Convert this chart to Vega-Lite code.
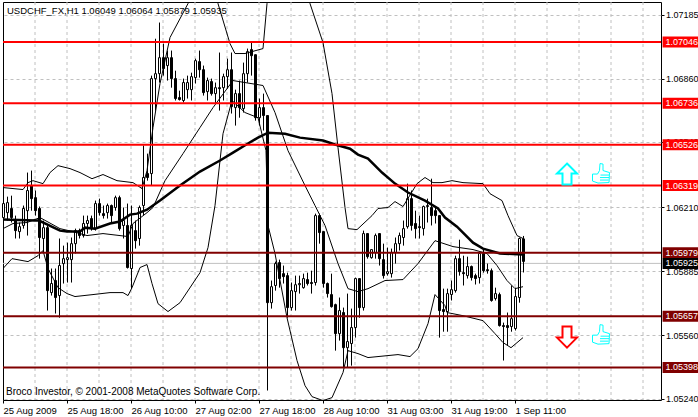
{"$schema":"https://vega.github.io/schema/vega-lite/v6.json","width":658,"height":398,"autosize":{"type":"none"},"padding":{"left":3,"top":2,"right":37,"bottom":17},"background":"white","view":{"stroke":"black","strokeWidth":1,"fill":"white"},
"config":{"font":"Liberation Sans","axis":{"labelFont":"Liberation Sans","labelFontSize":9.5,"labelColor":"black","tickColor":"black","domainColor":"black","title":null}},
"datasets":{
"gridx":[{"t":8},{"t":16},{"t":24},{"t":32},{"t":40},{"t":48},{"t":56},{"t":64},{"t":72},{"t":80},{"t":88},{"t":96},{"t":104},{"t":112},{"t":120},{"t":128},{"t":136},{"t":144},{"t":152},{"t":160}],
"bars":[
{"t":0,"o":1.06157,"h":1.06253,"l":1.06132,"c":1.06228},{"t":1,"o":1.06182,"h":1.06263,"l":1.06142,"c":1.06233},{"t":2,"o":1.06203,"h":1.06268,"l":1.06132,"c":1.06157},{"t":3,"o":1.06142,"h":1.06167,"l":1.06051,"c":1.06091},{"t":4,"o":1.06086,"h":1.06132,"l":1.06051,"c":1.06111},{"t":5,"o":1.06117,"h":1.06218,"l":1.06101,"c":1.06203},{"t":6,"o":1.06192,"h":1.06385,"l":1.06066,"c":1.06294},{"t":7,"o":1.06319,"h":1.06395,"l":1.06192,"c":1.06253},{"t":8,"o":1.06258,"h":1.06294,"l":1.06167,"c":1.06192},{"t":9,"o":1.06203,"h":1.06213,"l":1.05949,"c":1.06056},
{"t":10,"o":1.06051,"h":1.06142,"l":1.0598,"c":1.06106},{"t":11,"o":1.06106,"h":1.06117,"l":1.05686,"c":1.05787},{"t":12,"o":1.05777,"h":1.05899,"l":1.05762,"c":1.05823},{"t":13,"o":1.05838,"h":1.05899,"l":1.05671,"c":1.05752},{"t":14,"o":1.05762,"h":1.06051,"l":1.0565,"c":1.05914},{"t":15,"o":1.05924,"h":1.06015,"l":1.05823,"c":1.05949},{"t":16,"o":1.05944,"h":1.0603,"l":1.05828,"c":1.05954},{"t":17,"o":1.05944,"h":1.06056,"l":1.05828,"c":1.06025},{"t":18,"o":1.06025,"h":1.06101,"l":1.05975,"c":1.06091},{"t":19,"o":1.06091,"h":1.06101,"l":1.06051,"c":1.06066},
{"t":20,"o":1.06066,"h":1.06167,"l":1.06056,"c":1.06127},{"t":21,"o":1.06127,"h":1.06167,"l":1.06076,"c":1.06142},{"t":22,"o":1.06152,"h":1.06167,"l":1.06091,"c":1.06101},{"t":23,"o":1.06101,"h":1.06243,"l":1.06091,"c":1.06228},{"t":24,"o":1.06228,"h":1.06253,"l":1.06167,"c":1.06182},{"t":25,"o":1.06177,"h":1.06218,"l":1.06152,"c":1.06167},{"t":26,"o":1.06182,"h":1.06228,"l":1.06152,"c":1.06218},{"t":27,"o":1.06218,"h":1.06223,"l":1.06132,"c":1.06167},{"t":28,"o":1.06208,"h":1.06268,"l":1.06192,"c":1.06258},{"t":29,"o":1.06258,"h":1.06268,"l":1.06091,"c":1.06101},
{"t":30,"o":1.06117,"h":1.06208,"l":1.06051,"c":1.06142},{"t":31,"o":1.06117,"h":1.06228,"l":1.05899,"c":1.05904},{"t":32,"o":1.05899,"h":1.06218,"l":1.05797,"c":1.06117},{"t":33,"o":1.06091,"h":1.06142,"l":1.06,"c":1.0604},{"t":34,"o":1.06051,"h":1.06218,"l":1.06015,"c":1.06208},{"t":35,"o":1.06218,"h":1.06522,"l":1.06167,"c":1.0636},{"t":36,"o":1.0638,"h":1.06481,"l":1.06344,"c":1.0636},{"t":37,"o":1.0638,"h":1.06876,"l":1.06319,"c":1.06861},{"t":38,"o":1.06861,"h":1.07063,"l":1.06699,"c":1.06886},{"t":39,"o":1.06886,"h":1.07145,"l":1.06841,"c":1.06967},
{"t":40,"o":1.06967,"h":1.07038,"l":1.06876,"c":1.06912},{"t":41,"o":1.06927,"h":1.07003,"l":1.06851,"c":1.06967},{"t":42,"o":1.06967,"h":1.07003,"l":1.06815,"c":1.06861},{"t":43,"o":1.06861,"h":1.06901,"l":1.0675,"c":1.0676},{"t":44,"o":1.06765,"h":1.068,"l":1.0675,"c":1.06755},{"t":45,"o":1.0675,"h":1.06861,"l":1.0674,"c":1.06841},{"t":46,"o":1.06805,"h":1.06876,"l":1.0676,"c":1.06841},{"t":47,"o":1.06805,"h":1.06891,"l":1.0675,"c":1.06871},{"t":48,"o":1.06866,"h":1.06962,"l":1.06836,"c":1.06952},{"t":49,"o":1.06947,"h":1.07003,"l":1.06866,"c":1.06906},
{"t":50,"o":1.06906,"h":1.06927,"l":1.06775,"c":1.0679},{"t":51,"o":1.06795,"h":1.06866,"l":1.0675,"c":1.06851},{"t":52,"o":1.06846,"h":1.06861,"l":1.06775,"c":1.06785},{"t":53,"o":1.06785,"h":1.06841,"l":1.06734,"c":1.06815},{"t":54,"o":1.06815,"h":1.06993,"l":1.06699,"c":1.0681},{"t":55,"o":1.06815,"h":1.06886,"l":1.0675,"c":1.06871},{"t":56,"o":1.06871,"h":1.06962,"l":1.0681,"c":1.06906},{"t":57,"o":1.06906,"h":1.06993,"l":1.06684,"c":1.06719},{"t":58,"o":1.06714,"h":1.06805,"l":1.06623,"c":1.06785},{"t":59,"o":1.06785,"h":1.06851,"l":1.06663,"c":1.06714},
{"t":60,"o":1.06709,"h":1.06942,"l":1.06689,"c":1.06886},{"t":61,"o":1.06886,"h":1.07013,"l":1.06841,"c":1.06998},{"t":62,"o":1.07008,"h":1.07043,"l":1.06876,"c":1.06977},{"t":63,"o":1.06982,"h":1.06982,"l":1.06648,"c":1.06663},{"t":64,"o":1.06663,"h":1.0676,"l":1.06623,"c":1.06714},{"t":65,"o":1.06714,"h":1.06785,"l":1.06598,"c":1.06674},{"t":66,"o":1.06674,"h":1.06674,"l":1.05281,"c":1.05726},{"t":67,"o":1.05726,"h":1.05838,"l":1.05696,"c":1.05807},{"t":68,"o":1.05813,"h":1.05934,"l":1.05787,"c":1.05924},{"t":69,"o":1.05929,"h":1.05944,"l":1.05802,"c":1.05848},
{"t":70,"o":1.05873,"h":1.05914,"l":1.05823,"c":1.05858},{"t":71,"o":1.05863,"h":1.05878,"l":1.0565,"c":1.05701},{"t":72,"o":1.05701,"h":1.05828,"l":1.05686,"c":1.05787},{"t":73,"o":1.05782,"h":1.05863,"l":1.05686,"c":1.05817},{"t":74,"o":1.05817,"h":1.05863,"l":1.05772,"c":1.05823},{"t":75,"o":1.05802,"h":1.05873,"l":1.05797,"c":1.05848},{"t":76,"o":1.05843,"h":1.05878,"l":1.05813,"c":1.05823},{"t":77,"o":1.05828,"h":1.05888,"l":1.05772,"c":1.05823},{"t":78,"o":1.05828,"h":1.06177,"l":1.05813,"c":1.06167},{"t":79,"o":1.06167,"h":1.06177,"l":1.06025,"c":1.06081},
{"t":80,"o":1.06086,"h":1.06086,"l":1.05802,"c":1.05823},{"t":81,"o":1.05823,"h":1.05828,"l":1.05752,"c":1.05772},{"t":82,"o":1.05767,"h":1.05873,"l":1.05701,"c":1.05706},{"t":83,"o":1.05716,"h":1.05721,"l":1.05483,"c":1.05569},{"t":84,"o":1.05569,"h":1.05752,"l":1.05534,"c":1.05686},{"t":85,"o":1.05676,"h":1.05701,"l":1.05397,"c":1.05498},{"t":86,"o":1.05498,"h":1.05772,"l":1.05397,"c":1.05529},{"t":87,"o":1.05519,"h":1.05696,"l":1.05407,"c":1.056},{"t":88,"o":1.056,"h":1.05853,"l":1.05549,"c":1.05848},{"t":89,"o":1.05848,"h":1.05848,"l":1.0565,"c":1.05701},
{"t":90,"o":1.05701,"h":1.06091,"l":1.05686,"c":1.06076},{"t":91,"o":1.06076,"h":1.06076,"l":1.05949,"c":1.05959},{"t":92,"o":1.05954,"h":1.05995,"l":1.05949,"c":1.05995},{"t":93,"o":1.0598,"h":1.06076,"l":1.05949,"c":1.06066},{"t":94,"o":1.06076,"h":1.06076,"l":1.05914,"c":1.05949},{"t":95,"o":1.05944,"h":1.06025,"l":1.05848,"c":1.05863},{"t":96,"o":1.05873,"h":1.06005,"l":1.05863,"c":1.05883},{"t":97,"o":1.05873,"h":1.06,"l":1.05853,"c":1.0598},{"t":98,"o":1.0598,"h":1.06056,"l":1.05924,"c":1.06025},{"t":99,"o":1.06025,"h":1.06081,"l":1.0599,"c":1.06066},
{"t":100,"o":1.06056,"h":1.06142,"l":1.06015,"c":1.06101},{"t":101,"o":1.06111,"h":1.06329,"l":1.06101,"c":1.06253},{"t":102,"o":1.06253,"h":1.06294,"l":1.06091,"c":1.06117},{"t":103,"o":1.06127,"h":1.06192,"l":1.06051,"c":1.06101},{"t":104,"o":1.06111,"h":1.06167,"l":1.06051,"c":1.06106},{"t":105,"o":1.06101,"h":1.06218,"l":1.06066,"c":1.06213},{"t":106,"o":1.06213,"h":1.06253,"l":1.06132,"c":1.06218},{"t":107,"o":1.06208,"h":1.06354,"l":1.06117,"c":1.06167},{"t":108,"o":1.06192,"h":1.06208,"l":1.06127,"c":1.06167},{"t":109,"o":1.06167,"h":1.06167,"l":1.05549,"c":1.05686},
{"t":110,"o":1.05691,"h":1.05797,"l":1.05579,"c":1.05681},{"t":111,"o":1.05681,"h":1.05797,"l":1.05579,"c":1.05772},{"t":112,"o":1.05767,"h":1.05838,"l":1.05737,"c":1.05792},{"t":113,"o":1.05787,"h":1.05964,"l":1.05777,"c":1.05949},{"t":114,"o":1.05949,"h":1.06045,"l":1.05863,"c":1.05883},{"t":115,"o":1.05878,"h":1.05964,"l":1.05813,"c":1.05873},{"t":116,"o":1.05863,"h":1.05959,"l":1.05848,"c":1.05909},{"t":117,"o":1.05909,"h":1.05914,"l":1.05838,"c":1.05853},{"t":118,"o":1.05863,"h":1.05873,"l":1.05818,"c":1.05848},{"t":119,"o":1.05853,"h":1.05985,"l":1.05823,"c":1.05975},
{"t":120,"o":1.05975,"h":1.06,"l":1.05878,"c":1.05888},{"t":121,"o":1.05893,"h":1.05924,"l":1.05873,"c":1.05888},{"t":122,"o":1.05888,"h":1.05899,"l":1.05731,"c":1.05737},{"t":123,"o":1.05747,"h":1.05802,"l":1.05737,"c":1.05772},{"t":124,"o":1.05767,"h":1.05777,"l":1.05605,"c":1.0561},{"t":125,"o":1.0561,"h":1.05625,"l":1.05433,"c":1.05605},{"t":126,"o":1.0561,"h":1.05676,"l":1.05509,"c":1.056},{"t":127,"o":1.05605,"h":1.05813,"l":1.05579,"c":1.05645},{"t":128,"o":1.05595,"h":1.05802,"l":1.05585,"c":1.05757},{"t":129,"o":1.05752,"h":1.06056,"l":1.05726,"c":1.06051},
{"t":130,"o":1.06049,"h":1.06064,"l":1.05879,"c":1.05935}
],
"ma":[{"t":0,"p":1.06147},{"t":8,"p":1.06142},{"t":9,"p":1.06142},{"t":14.25,"p":1.06091},{"t":16,"p":1.06086},{"t":19.25,"p":1.06086},{"t":20.5,"p":1.06106},{"t":23,"p":1.06101},{"t":26.75,"p":1.06127},{"t":29.25,"p":1.06137},{"t":31.75,"p":1.06172},{"t":33.5,"p":1.06177},{"t":36,"p":1.06197},{"t":39.25,"p":1.06243},{"t":40.5,"p":1.06263},{"t":44.25,"p":1.06319},{"t":49.25,"p":1.0639},{"t":54.25,"p":1.06446},{"t":57.5,"p":1.06486},{"t":61.25,"p":1.06532},{"t":63.75,"p":1.06562},{"t":66.25,"p":1.06587},{"t":70.5,"p":1.06582},{"t":74.25,"p":1.06562},{"t":80,"p":1.06547},{"t":83,"p":1.06527},{"t":86.75,"p":1.06506},{"t":88.75,"p":1.06476},{"t":91.25,"p":1.06456},{"t":94.75,"p":1.06385},{"t":98,"p":1.06329},{"t":101.25,"p":1.06284},{"t":105.5,"p":1.06243},{"t":108.75,"p":1.06203},{"t":110.5,"p":1.06157},{"t":113.5,"p":1.06111},{"t":117.5,"p":1.0603},{"t":120,"p":1.06},{"t":124.25,"p":1.05975},{"t":130,"p":1.0597}],
"bands":[
{"s":"upper","t":0,"p":1.06309},{"s":"upper","t":5,"p":1.06299},{"s":"upper","t":6.25,"p":1.06334},{"s":"upper","t":7.5,"p":1.06344},{"s":"upper","t":10,"p":1.06329},{"s":"upper","t":11.75,"p":1.06385},{"s":"upper","t":13.75,"p":1.0642},{"s":"upper","t":16.75,"p":1.06405},{"s":"upper","t":19.25,"p":1.06385},{"s":"upper","t":22.25,"p":1.06354},{"s":"upper","t":25,"p":1.06375},{"s":"upper","t":28.5,"p":1.06344},{"s":"upper","t":32.5,"p":1.06334},{"s":"upper","t":34.75,"p":1.06304},{"s":"upper","t":36,"p":1.06395},{"s":"upper","t":37.5,"p":1.06613},{"s":"upper","t":39.25,"p":1.06836},{"s":"upper","t":41.75,"p":1.07069},{"s":"upper","t":46.25,"p":1.07241},{"s":"upper","t":49.25,"p":1.07408},{"s":"upper","t":51.75,"p":1.07408},{"s":"upper","t":53.75,"p":1.07241},{"s":"upper","t":56.75,"p":1.07038},{"s":"upper","t":58,"p":1.06988},{"s":"upper","t":60.5,"p":1.06988},{"s":"upper","t":65,"p":1.07013},{"s":"upper","t":66,"p":1.07241},{"s":"upper","t":66.75,"p":1.07459},{"s":"upper","t":74.25,"p":1.07459},{"s":"upper","t":76.75,"p":1.07241},{"s":"upper","t":80,"p":1.07043},{"s":"upper","t":82.25,"p":1.06785},{"s":"upper","t":83.75,"p":1.06511},{"s":"upper","t":85.5,"p":1.06208},{"s":"upper","t":86.25,"p":1.06101},{"s":"upper","t":88.5,"p":1.06096},{"s":"upper","t":92.25,"p":1.06167},{"s":"upper","t":93.75,"p":1.06203},{"s":"upper","t":96.25,"p":1.06208},{"s":"upper","t":98,"p":1.06238},{"s":"upper","t":100,"p":1.06213},{"s":"upper","t":103.5,"p":1.06329},{"s":"upper","t":105.5,"p":1.0636},{"s":"upper","t":107.5,"p":1.06334},{"s":"upper","t":109.75,"p":1.06334},{"s":"upper","t":112.25,"p":1.06344},{"s":"upper","t":115,"p":1.06334},{"s":"upper","t":120,"p":1.06329},{"s":"upper","t":121.75,"p":1.06278},{"s":"upper","t":124.75,"p":1.06243},{"s":"upper","t":126.25,"p":1.06167},{"s":"upper","t":128.5,"p":1.06066},{"s":"upper","t":130,"p":1.06051},
{"s":"middle","t":0,"p":1.06101},{"s":"middle","t":2.5,"p":1.06127},{"s":"middle","t":6,"p":1.06132},{"s":"middle","t":9.25,"p":1.06157},{"s":"middle","t":14.25,"p":1.06101},{"s":"middle","t":17.5,"p":1.06086},{"s":"middle","t":21,"p":1.06066},{"s":"middle","t":25,"p":1.06076},{"s":"middle","t":31.25,"p":1.06061},{"s":"middle","t":32.5,"p":1.06127},{"s":"middle","t":36,"p":1.06182},{"s":"middle","t":37.5,"p":1.06208},{"s":"middle","t":40.5,"p":1.06344},{"s":"middle","t":45,"p":1.06481},{"s":"middle","t":49.25,"p":1.06613},{"s":"middle","t":52.5,"p":1.06714},{"s":"middle","t":57.5,"p":1.06851},{"s":"middle","t":60.5,"p":1.06841},{"s":"middle","t":65,"p":1.06826},{"s":"middle","t":68,"p":1.06689},{"s":"middle","t":71.25,"p":1.06496},{"s":"middle","t":75.5,"p":1.06319},{"s":"middle","t":78,"p":1.06218},{"s":"middle","t":80.5,"p":1.06117},{"s":"middle","t":83.75,"p":1.05924},{"s":"middle","t":86.25,"p":1.05797},{"s":"middle","t":88.75,"p":1.05782},{"s":"middle","t":91.25,"p":1.05797},{"s":"middle","t":95.5,"p":1.05838},{"s":"middle","t":100,"p":1.05843},{"s":"middle","t":103.75,"p":1.05924},{"s":"middle","t":108,"p":1.0604},{"s":"middle","t":112.5,"p":1.0601},{"s":"middle","t":117.5,"p":1.05995},{"s":"middle","t":121,"p":1.05975},{"s":"middle","t":123.5,"p":1.05914},{"s":"middle","t":126,"p":1.05838},{"s":"middle","t":128,"p":1.05797},{"s":"middle","t":130,"p":1.05807},
{"s":"lower","t":0,"p":1.05899},{"s":"lower","t":2.25,"p":1.05949},{"s":"lower","t":6.25,"p":1.05934},{"s":"lower","t":8.75,"p":1.05964},{"s":"lower","t":10,"p":1.0599},{"s":"lower","t":11.25,"p":1.05899},{"s":"lower","t":13.75,"p":1.05802},{"s":"lower","t":16,"p":1.05772},{"s":"lower","t":18,"p":1.05757},{"s":"lower","t":22.5,"p":1.05767},{"s":"lower","t":26.75,"p":1.05777},{"s":"lower","t":30,"p":1.05777},{"s":"lower","t":31.25,"p":1.05762},{"s":"lower","t":32.25,"p":1.05802},{"s":"lower","t":34.25,"p":1.05904},{"s":"lower","t":36,"p":1.05919},{"s":"lower","t":37.25,"p":1.05823},{"s":"lower","t":38.75,"p":1.05721},{"s":"lower","t":41.25,"p":1.05681},{"s":"lower","t":44.25,"p":1.05726},{"s":"lower","t":49.25,"p":1.05878},{"s":"lower","t":51.25,"p":1.06005},{"s":"lower","t":53,"p":1.06218},{"s":"lower","t":55,"p":1.06582},{"s":"lower","t":57.25,"p":1.0675},{"s":"lower","t":60.5,"p":1.06689},{"s":"lower","t":63.75,"p":1.06663},{"s":"lower","t":65.75,"p":1.06496},{"s":"lower","t":66.25,"p":1.06117},{"s":"lower","t":68,"p":1.05975},{"s":"lower","t":71,"p":1.0565},{"s":"lower","t":73.5,"p":1.05433},{"s":"lower","t":75.5,"p":1.05306},{"s":"lower","t":77.25,"p":1.0525},{"s":"lower","t":80,"p":1.0523},{"s":"lower","t":82.25,"p":1.05245},{"s":"lower","t":85,"p":1.05372},{"s":"lower","t":86.25,"p":1.05483},{"s":"lower","t":88.75,"p":1.05468},{"s":"lower","t":91.25,"p":1.05448},{"s":"lower","t":98.75,"p":1.05463},{"s":"lower","t":101.75,"p":1.05453},{"s":"lower","t":103.75,"p":1.05493},{"s":"lower","t":106.25,"p":1.0562},{"s":"lower","t":108,"p":1.05767},{"s":"lower","t":110.5,"p":1.05711},{"s":"lower","t":111,"p":1.05676},{"s":"lower","t":115,"p":1.0566},{"s":"lower","t":120,"p":1.05635},{"s":"lower","t":123,"p":1.05569},{"s":"lower","t":125,"p":1.05524},{"s":"lower","t":127,"p":1.05498},{"s":"lower","t":130,"p":1.05549}
],
"levels":[{"p":1.07046,"kind":"resistance","label":"1.07046"},{"p":1.06736,"kind":"resistance","label":"1.06736"},{"p":1.06526,"kind":"resistance","label":"1.06526"},{"p":1.06319,"kind":"resistance","label":"1.06319"},{"p":1.05979,"kind":"support","label":"1.05979"},{"p":1.05657,"kind":"support","label":"1.05657"},{"p":1.05398,"kind":"support","label":"1.05398"}],
"current":[{"p":1.05925,"kind":"current","label":"1.05925"}]
},
"layer":[
{"data":{"name":"gridx"},"mark":{"type":"rule","color":"#c0c0c0","strokeWidth":1,"strokeDash":[3,3]},"encoding":{
"x":{"field":"t","type":"quantitative","scale":{"domain":[0,164.5],"nice":false,"zero":false,"padding":0},"axis":{"values":[0,16,32,48,64,80,96,112,128],"grid":false,"labelAlign":"left","labelPadding":2,"tickSize":3,"domain":false,"labelOverlap":false,"labelFlush":false,"title":null,"labelExpr":"['25 Aug 2009','25 Aug 18:00','26 Aug 10:00','27 Aug 02:00','27 Aug 18:00','28 Aug 10:00','31 Aug 03:00','31 Aug 19:00','1 Sep 11:00'][datum.value/16]"}}}},
{"data":{"name":"current"},"mark":{"type":"rule","color":"#c0c0c0","strokeWidth":1},"encoding":{"y":{"field":"p","type":"quantitative","scale":{"domain":[1.05233,1.07249],"nice":false,"zero":false,"padding":0},"axis":{"orient":"right","values":[1.07185,1.07025,1.0686,1.067,1.0654,1.06375,1.0621,1.0605,1.05885,1.05725,1.0556,1.054,1.0524],"format":".5f","grid":true,"gridColor":"#c0c0c0","gridDash":[3,3],"gridWidth":1,"tickSize":3,"labelPadding":1.5,"labelFontSize":9,"domain":false,"title":null}}}},
{"data":{"name":"bars"},"mark":{"type":"rule","color":"black","strokeWidth":1,"xOffset":0.5},"encoding":{
"x":{"field":"t","type":"quantitative"},
"y":{"field":"l","type":"quantitative"},"y2":{"field":"h"}}},
{"data":{"name":"bars"},"mark":{"type":"bar","size":2,"stroke":"black","strokeWidth":1,"xOffset":0.5},"encoding":{
"x":{"field":"t","type":"quantitative"},"y":{"field":"o","type":"quantitative"},"y2":{"field":"c"},
"color":{"condition":{"test":"datum.c>=datum.o","value":"white"},"value":"black"}}},
{"data":{"name":"bands"},"mark":{"type":"line","color":"black","strokeWidth":1,"clip":true},"encoding":{"x":{"field":"t","type":"quantitative"},"y":{"field":"p","type":"quantitative"},"detail":{"field":"s"}}},
{"data":{"name":"ma"},"mark":{"type":"line","color":"black","strokeWidth":2.5,"clip":true},"encoding":{"x":{"field":"t","type":"quantitative"},"y":{"field":"p","type":"quantitative"}}},
{"data":{"name":"levels"},"mark":{"type":"rule","strokeWidth":2},"encoding":{"y":{"field":"p","type":"quantitative"},"color":{"field":"kind","type":"nominal","legend":null,"scale":{"domain":["resistance","support","current"],"range":["#ff0000","#800000","#000000"]}}}},
{"data":{"name":"levels"},"mark":{"type":"rule","strokeWidth":11},"encoding":{"x":{"datum":164.9},"x2":{"datum":175},"y":{"field":"p","type":"quantitative"},"color":{"field":"kind","type":"nominal","legend":null,"scale":{"domain":["resistance","support","current"],"range":["#ff0000","#800000","#000000"]}}}},
{"data":{"name":"current"},"mark":{"type":"rule","strokeWidth":11,"color":"black"},"encoding":{"x":{"datum":164.9},"x2":{"datum":175},"y":{"field":"p","type":"quantitative"}}},
{"data":{"name":"levels"},"mark":{"type":"text","align":"left","baseline":"middle","color":"white","fontSize":9,"font":"Liberation Sans"},"encoding":{"x":{"datum":165.6},"y":{"field":"p","type":"quantitative"},"text":{"field":"label"}}},
{"data":{"name":"current"},"mark":{"type":"text","align":"left","baseline":"middle","color":"white","fontSize":9,"font":"Liberation Sans"},"encoding":{"x":{"datum":165.6},"y":{"field":"p","type":"quantitative"},"text":{"field":"label"}}},
{"data":{"values":[{"t":1,"p":1.07205,"label":"USDCHF_FX,H1  1.06049 1.06064 1.05879 1.05935"}]},"mark":{"type":"text","align":"left","baseline":"middle","color":"black","fontSize":9.5,"font":"Liberation Sans"},"encoding":{"x":{"field":"t","type":"quantitative"},"y":{"field":"p","type":"quantitative"},"text":{"field":"label"}}},
{"data":{"values":[{"t":0.75,"p":1.05271,"label":"Broco Investor, © 2001-2008 MetaQuotes Software Corp."}]},"mark":{"type":"text","align":"left","baseline":"middle","color":"black","fontSize":10,"font":"Liberation Sans"},"encoding":{"x":{"field":"t","type":"quantitative"},"y":{"field":"p","type":"quantitative"},"text":{"field":"label"}}},
{"data":{"values":[{"t":141,"p":1.0638}]},"mark":{"type":"point","filled":false,"fill":"white","fillOpacity":1,"stroke":"#00ffff","strokeWidth":2,"opacity":1,"size":400,"shape":"M0,-1 L1,0 L0.45,0 L0.45,1.1 L-0.45,1.1 L-0.45,0 L-1,0 Z"},"encoding":{"x":{"field":"t","type":"quantitative"},"y":{"field":"p","type":"quantitative"}}},
{"data":{"values":[{"t":141,"p":1.05549}]},"mark":{"type":"point","filled":false,"fill":"white","fillOpacity":1,"stroke":"#ff0000","strokeWidth":2,"opacity":1,"size":400,"shape":"M0,1 L1,0 L0.45,0 L0.45,-1.1 L-0.45,-1.1 L-0.45,0 L-1,0 Z"},"encoding":{"x":{"field":"t","type":"quantitative"},"y":{"field":"p","type":"quantitative"}}},
{"data":{"values":[{"t":149.25,"p":1.0638},{"t":149.25,"p":1.05564}]},"mark":{"type":"point","filled":false,"fill":"white","fillOpacity":1,"stroke":"#00ffff","strokeWidth":1,"opacity":1,"size":400,"shape":"M-0.75,0.05 L-0.25,0.05 L-0.05,-0.3 L0,-1 L0.3,-0.95 L0.3,-0.3 L0.95,-0.1 L0.9,0.9 L-0.2,0.95 L-0.75,0.75 Z M0.05,0.15 L0.9,0.15 M0,0.4 L0.9,0.4 M0,0.65 L0.85,0.65"},"encoding":{"x":{"field":"t","type":"quantitative"},"y":{"field":"p","type":"quantitative"}}}
]}
